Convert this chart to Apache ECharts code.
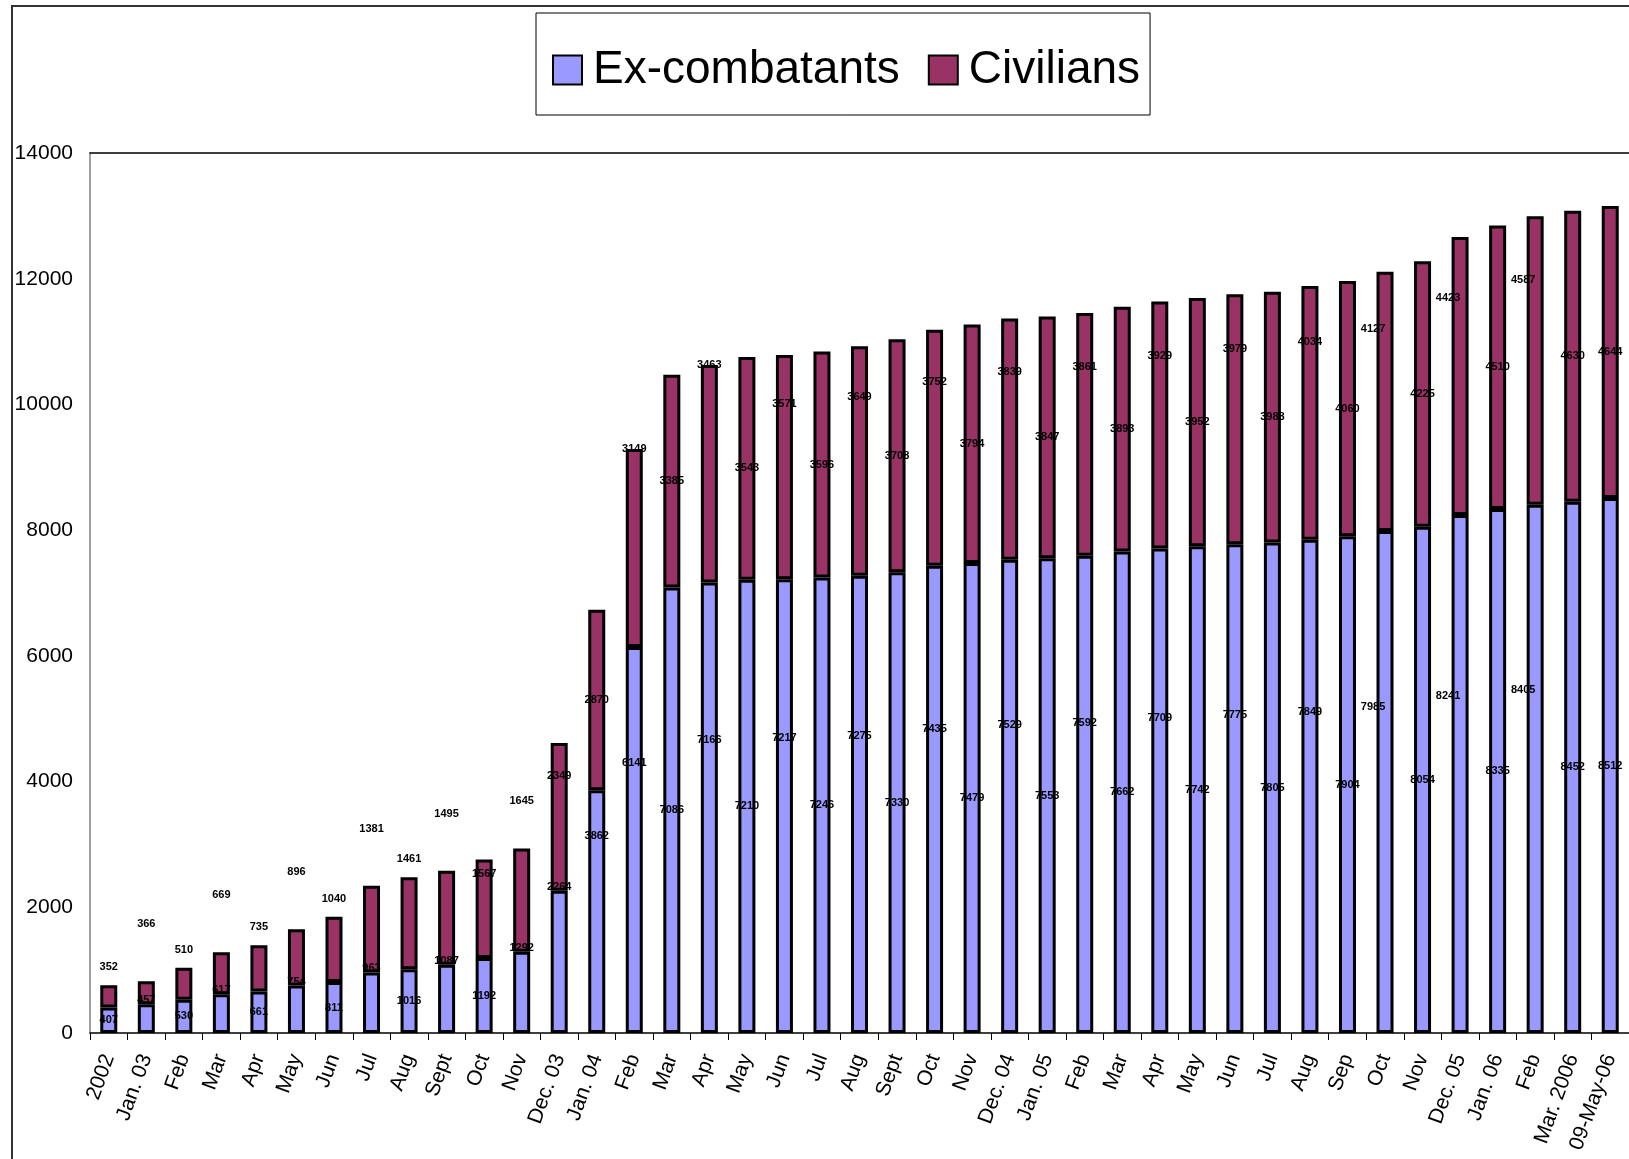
<!DOCTYPE html>
<html>
<head>
<meta charset="utf-8">
<script src="https://cdn.jsdelivr.net/npm/echarts/dist/echarts.min.js"></script>
<style>
  html, body { margin: 0; padding: 0; background: #fff; overflow: hidden; }
  #chart { position: absolute; left: 0; top: 0; width: 1629px; height: 1159px; }
  #frame { position: absolute; left: 11px; top: 5px; width: 1700px; height: 1300px;
           border: 2px solid #333; pointer-events: none; }
</style>
</head>
<body>
<div id="chart"></div>
<div id="frame"></div>
<script>
const categories = ['2002','Jan. 03','Feb','Mar','Apr','May','Jun','Jul','Aug','Sept','Oct','Nov','Dec. 03',
  'Jan. 04','Feb','Mar','Apr','May','Jun','Jul','Aug','Sept','Oct','Nov','Dec. 04',
  'Jan. 05','Feb','Mar','Apr','May','Jun','Jul','Aug','Sep','Oct','Nov','Dec. 05',
  'Jan. 06','Feb','Mar. 2006','09-May-06'];

const exCombatants = [407,457,530,617,661,754,811,963,1016,1087,1192,1292,2264,3862,6141,7086,7166,7210,7217,7246,
  7275,7330,7435,7479,7529,7553,7592,7662,7709,7742,7775,7805,7849,7904,7985,8054,8241,8335,8405,8452,8512];

const civilians = [352,366,510,669,735,896,1040,1381,1461,1495,1567,1645,2349,2870,3149,3385,3463,3543,3571,3596,
  3649,3708,3752,3794,3839,3847,3861,3893,3929,3952,3979,3988,4034,4060,4127,4225,4423,4510,4587,4630,4644];

const yTicks = { min: 0, max: 14000, interval: 2000 };

const FONT = "'Liberation Sans', Arial, sans-serif";
const baseLabel = {
  show: true, color: '#000', fontFamily: FONT, fontWeight: 'bold', fontSize: 11,
  align: 'center', verticalAlign: 'middle'
};

// label placement rules mimicking the original's staggered data labels
function exLabel(i) {
  let pos;
  if (i <= 12) pos = (i % 2 === 1 || i === 12) ? ['50%', -4] : ['50%', '50%'];
  else if (i === 13) pos = ['50%', '19%'];
  else if (i === 14) pos = ['50%', '30%'];
  else if (i === 40) pos = ['50%', '50%'];
  else pos = (i % 2 === 0) ? ['50%', '35%'] : ['50%', '50%'];
  const off = (i >= 34 && i <= 38 && i % 2 === 0) ? [-12, 0] : [0, 0];
  return Object.assign({}, baseLabel, { position: pos, offset: off });
}
function civLabel(i) {
  let pos;
  if (i <= 9) pos = (i % 2 === 0) ? ['50%', -18] : ['50%', -57];
  else if (i === 10) pos = ['50%', 14];
  else if (i === 11) pos = ['50%', -47];
  else if (i === 14 || i === 16) pos = ['50%', 0];
  else if (i === 40) pos = ['50%', '50%'];
  else pos = (i % 2 === 0) ? ['50%', '22%'] : ['50%', '50%'];
  const off = (i >= 34 && i <= 38 && i % 2 === 0) ? [-12, 0] : [0, 0];
  return Object.assign({}, baseLabel, { position: pos, offset: off });
}

const chart = echarts.init(document.getElementById('chart'), null, { renderer: 'canvas' });
chart.setOption({
  animation: false,
  backgroundColor: 'transparent',
  legend: {
    left: 536, top: 13,
    data: ['Ex-combatants', 'Civilians'],
    icon: 'rect',
    itemWidth: 29, itemHeight: 29, itemGap: 28,
    padding: [34, 10, 22, 16],
    borderColor: '#000', borderWidth: 1,
    textStyle: { fontFamily: FONT, fontSize: 46, color: '#000', padding: [0, 0, 0, 6] }
  },
  grid: { left: 90, top: 153, right: -2, bottom: 126, containLabel: false },
  xAxis: [{
    type: 'category', data: categories, position: 'bottom',
    axisLine: { show: true, lineStyle: { color: '#000', width: 1.5 } },
    axisTick: { show: true, length: 7, lineStyle: { color: '#000', width: 1 } },
    axisLabel: { interval: 0, rotate: 70, margin: 22, color: '#000', fontFamily: FONT, fontSize: 21 }
  }, {
    type: 'category', data: categories, position: 'top',
    axisLine: { show: true, lineStyle: { color: '#000', width: 1.5 } },
    axisTick: { show: false }, axisLabel: { show: false }
  }],
  yAxis: {
    type: 'value', min: yTicks.min, max: yTicks.max, interval: yTicks.interval,
    axisLine: { show: true, lineStyle: { color: '#808080', width: 1.5 } },
    axisTick: { show: false },
    splitLine: { show: false },
    axisLabel: { margin: 17, color: '#000', fontFamily: FONT, fontSize: 21,
                 formatter: v => String(v) }
  },
  series: [{
    name: 'Ex-combatants', type: 'bar', stack: 'total', barWidth: 17,
    itemStyle: { color: '#9999FF', borderColor: '#000', borderWidth: 3 },
    data: exCombatants.map((v, i) => ({ value: v, label: exLabel(i) }))
  }, {
    name: 'Civilians', type: 'bar', stack: 'total', barWidth: 17,
    itemStyle: { color: '#993366', borderColor: '#000', borderWidth: 3 },
    data: civilians.map((v, i) => ({ value: v, label: civLabel(i) }))
  }]
});
</script>
</body>
</html>
